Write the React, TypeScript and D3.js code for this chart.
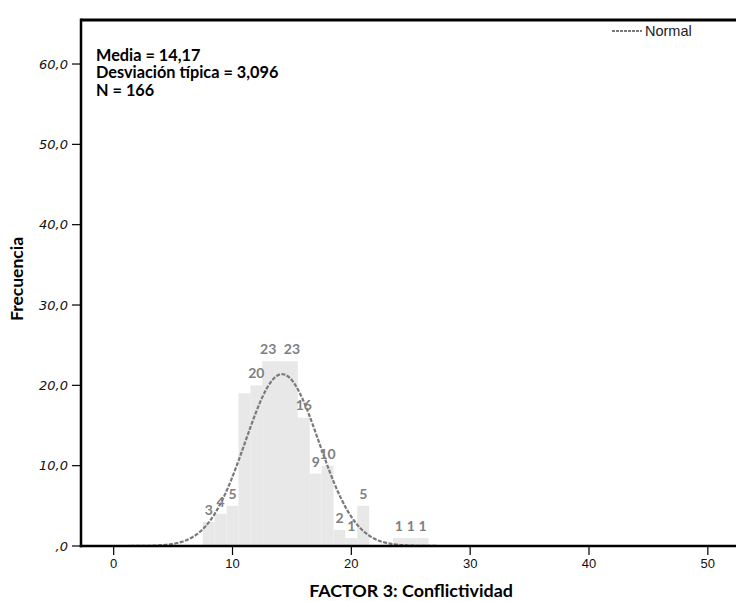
import React from "react";
import * as d3 from "d3";

const categories = [8, 9, 10, 11, 12, 13, 14, 15, 16, 17, 18, 19, 20, 21, 22, 23, 24, 25, 26];
const frequencies = [3, 4, 5, 19, 20, 23, 23, 23, 16, 9, 10, 2, 1, 5, 0, 0, 1, 1, 1];
const hiddenLabels = [11, 14];
const xTicks = [0, 10, 20, 30, 40, 50];
const yTicks = [0, 10, 20, 30, 40, 50, 60];
const yTickLabels = [",0", "10,0", "20,0", "30,0", "40,0", "50,0", "60,0"];
const mean = 14.17;
const sd = 3.096;
const n = 166;
const statLines = ["Media = 14,17", "Desviación típica = 3,096", "N = 166"];

const W = 736;
const H = 601;
const left = 81;
const right = 736;
const top = 20;
const bottom = 546;

export default function App() {
  const x = d3.scaleLinear().domain([-2.75, 52.37]).range([left, right]);
  const y = d3.scaleLinear().domain([0, 65.48]).range([bottom, top]);
  const bw = x(1) - x(0);

  const pdf = (v: number) =>
    (n * 1 * Math.exp(-0.5 * ((v - mean) / sd) ** 2)) / (sd * Math.sqrt(2 * Math.PI));
  const curvePts = d3.range(-2.75, 52.37, 0.1).map((v) => [v, pdf(v)] as [number, number]);
  const line = d3
    .line<[number, number]>()
    .x((d) => x(d[0]))
    .y((d) => y(d[1]))
    .curve(d3.curveLinear);

  const bold = "Lato, 'Open Sans', sans-serif";

  return (
    <svg
      width={W}
      height={H}
      style={{ position: "absolute", left: 0, top: 0, background: "#fff" }}
    >
      <rect x={0} y={0} width={W} height={H} fill="#fff" />
      {categories.map((c, i) =>
        frequencies[i] > 0 ? (
          <rect
            key={c}
            x={x(c - 0.5)}
            y={y(frequencies[i])}
            width={bw}
            height={y(0) - y(frequencies[i])}
            fill="#e8e8e8"
          />
        ) : null
      )}
      <path
        d={line(curvePts) || ""}
        fill="none"
        stroke="#7a7a7a"
        strokeWidth={2.2}
        strokeDasharray="4,1.5"
      />
      {categories.map((c, i) =>
        frequencies[i] > 0 && !hiddenLabels.includes(c) ? (
          <text
            key={"l" + c}
            x={x(c)}
            y={y(frequencies[i]) - 7}
            textAnchor="middle"
            fontFamily={bold}
            fontWeight="bold"
            fontSize={14}
            fill="#808080"
          >
            {frequencies[i]}
          </text>
        ) : null
      )}
      {/* frame */}
      <line x1={left} x2={right} y1={top} y2={top} stroke="#000" strokeWidth={3} />
      <line x1={left} x2={left} y1={top - 1.5} y2={bottom + 1.2} stroke="#000" strokeWidth={2.5} />
      <line x1={left - 1.2} x2={right} y1={bottom} y2={bottom} stroke="#000" strokeWidth={2.5} />
      {/* y ticks */}
      {yTicks.map((t, i) => (
        <g key={"y" + t}>
          <line x1={72} x2={left} y1={y(t)} y2={y(t)} stroke="#000" strokeWidth={1.2} />
          <text
            x={68}
            y={y(t)}
            dy="0.35em"
            textAnchor="end"
            fontFamily="'DejaVu Sans', sans-serif"
            fontStyle="italic"
            fontSize={13}
            fill="#111"
          >
            {yTickLabels[i]}
          </text>
        </g>
      ))}
      {/* x ticks */}
      {xTicks.map((t) => (
        <g key={"x" + t}>
          <line x1={x(t)} x2={x(t)} y1={bottom} y2={555} stroke="#000" strokeWidth={1.2} />
          <text
            x={x(t)}
            y={563}
            dy="0.35em"
            textAnchor="middle"
            fontFamily="'Liberation Sans', Arial, sans-serif"
            fontSize={13}
            fill="#111"
          >
            {t}
          </text>
        </g>
      ))}
      {/* stats */}
      {statLines.map((s, i) => (
        <text
          key={s}
          x={96}
          y={55 + i * 17.5}
          dy="0.35em"
          fontFamily={bold}
          fontWeight="bold"
          fontSize={16.3}
          fill="#000"
        >
          {s}
        </text>
      ))}
      {/* legend */}
      <line x1={612} x2={642} y1={31} y2={31} stroke="#7a7a7a" strokeWidth={2} strokeDasharray="3,1" />
      <text
        x={645}
        y={31}
        dy="0.35em"
        fontFamily="'Liberation Sans', Arial, sans-serif"
        fontSize={14.5}
        fill="#222"
      >
        Normal
      </text>
      {/* axis titles */}
      <text
        x={411}
        y={591}
        dy="0.35em"
        textAnchor="middle"
        fontFamily={bold}
        fontWeight="bold"
        fontSize={17.9}
        fill="#000"
      >
        FACTOR 3: Conflictividad
      </text>
      <text
        transform={`translate(17,279) rotate(-90)`}
        dy="0.35em"
        textAnchor="middle"
        fontFamily={bold}
        fontWeight="bold"
        fontSize={17.5}
        fill="#000"
      >
        Frecuencia
      </text>
    </svg>
  );
}
